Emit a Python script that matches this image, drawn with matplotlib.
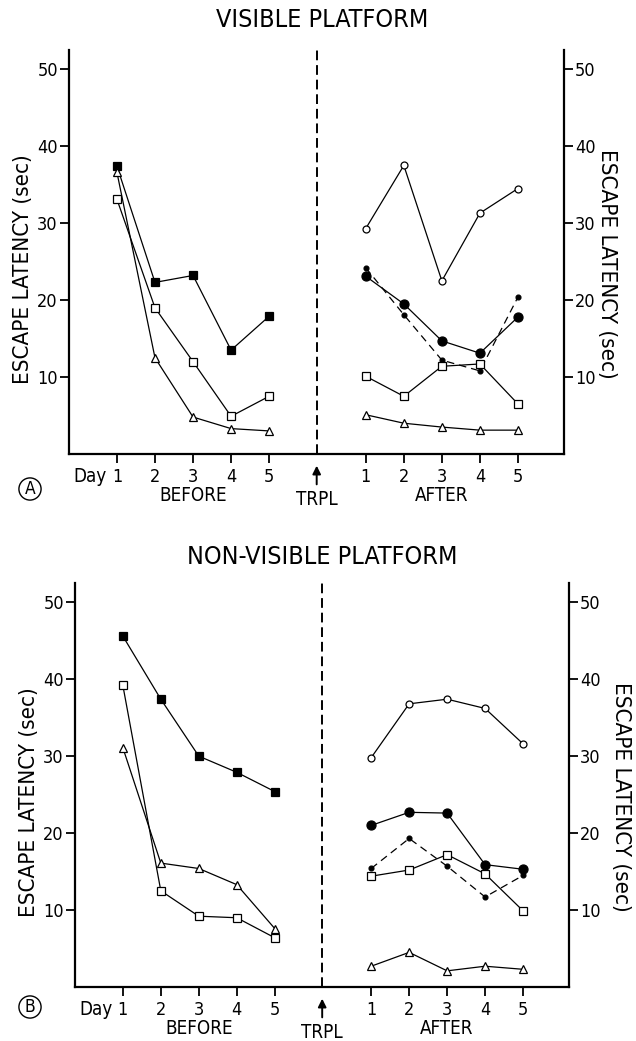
import matplotlib.pyplot as plt

plt.rcParams['font.family'] = 'DejaVu Sans'
plt.rcParams['font.stretch'] = 'condensed'

days = [1, 2, 3, 4, 5]
day_labels = ['1', '2', '3', '4', '5']
y_ticks = [10, 20, 30, 40, 50]

# A: visible platform
a_before_filled_sq = [37.4, 22.3, 23.2, 13.5, 17.9]
a_before_open_sq = [33.1, 19.0, 12.0, 4.9, 7.5]
a_before_tri = [36.6, 12.5, 4.8, 3.3, 3.0]
a_after_open_circ = [29.3, 37.5, 22.5, 31.3, 34.5]
a_after_filled_circ = [23.1, 19.5, 14.7, 13.1, 17.8]
a_after_dot = [24.2, 18.1, 12.2, 10.8, 20.4]
a_after_open_sq = [10.1, 7.5, 11.4, 11.7, 6.5]
a_after_tri = [5.1, 4.0, 3.5, 3.1, 3.1]

# B: non-visible platform
b_before_filled_sq = [45.6, 37.4, 30.0, 27.9, 25.4]
b_before_open_sq = [39.2, 12.5, 9.2, 9.0, 6.4]
b_before_tri = [31.1, 16.1, 15.4, 13.3, 7.6]
b_after_open_circ = [29.8, 36.8, 37.4, 36.2, 31.6]
b_after_filled_circ = [21.0, 22.7, 22.6, 15.9, 15.3]
b_after_dot = [15.4, 19.3, 15.7, 11.7, 14.5]
b_after_open_sq = [14.4, 15.2, 17.2, 14.7, 9.9]
b_after_tri = [2.7, 4.5, 2.1, 2.7, 2.3]

shift = 6.54   # after-days sit right of the TRPL line
trpl_x = 6.25
after_days = [d + shift for d in days]


def line(ax, x, y, marker, fc, ms, ls='-'):
    ax.plot(x, y, color='k', lw=0.9, ls=ls, marker=marker, ms=ms,
            mfc=fc, mec='k', mew=0.9, zorder=3)


def panel(ax, title, letter, title_y, letter_y, before, after, rlab_x):
    bfs, bos, btr = before
    aoc, afc, adot, aos, atr = after
    line(ax, days, bfs, 's', 'k', 5.5)
    line(ax, days, bos, 's', 'white', 5.5)
    line(ax, days, btr, '^', 'white', 6)
    line(ax, after_days, aoc, 'o', 'white', 5)
    line(ax, after_days, afc, 'o', 'k', 6.5)
    line(ax, after_days, adot, 'o', 'k', 3.5, ls=(0, (6, 4)))
    line(ax, after_days, aos, 's', 'white', 5.5)
    line(ax, after_days, atr, '^', 'white', 6)

    ax.set_xlim(-0.26, 12.75)
    ax.set_ylim(0, 52.5)
    ax.spines['top'].set_visible(False)
    for s in ['left', 'right', 'bottom']:
        ax.spines[s].set_linewidth(1.6)
    ax.set_xticks(days + after_days)
    ax.set_xticklabels(day_labels + day_labels)
    ax.set_yticks(y_ticks)
    ax.tick_params(axis='y', left=True, right=True, labelleft=True,
                   labelright=True, direction='out', length=6.5, width=1.3,
                   pad=1.5, labelsize=13)
    ax.tick_params(axis='x', direction='out', length=6.5, width=1.3,
                   pad=3.5, labelsize=13)

    ax.axvline(trpl_x, color='k', lw=1.4, ls=(0, (5, 2.5)))
    tr = ax.get_xaxis_transform()
    ax.annotate('', xy=(trpl_x, -0.022), xytext=(trpl_x, -0.082),
                xycoords=tr,
                arrowprops=dict(arrowstyle='-|>', color='k', lw=1.4,
                                mutation_scale=12), annotation_clip=False)
    ax.text(trpl_x, -0.113, 'TRPL', transform=tr, ha='center', va='center',
            fontsize=13.5)
    ax.text(0.74, -0.055, 'Day', transform=tr, ha='right', va='center',
            fontsize=13.5)
    ax.text(3, -0.103, 'BEFORE', transform=tr, ha='center', va='center',
            fontsize=13.5)
    ax.text(3 + shift, -0.103, 'AFTER', transform=tr, ha='center',
            va='center', fontsize=13.5)

    ax.text(-0.093, 0.458, 'ESCAPE LATENCY (sec)', transform=ax.transAxes,
            rotation=90, ha='center', va='center', fontsize=16)
    ax.text(rlab_x, 0.47, 'ESCAPE LATENCY (sec)', transform=ax.transAxes,
            rotation=-90, ha='center', va='center', fontsize=16)

    fig.text(0.506, title_y, title, ha='center', va='center', fontsize=18)
    fig.text(30 / 636, letter_y, letter, ha='center', va='center',
             fontsize=12.5,
             bbox=dict(boxstyle='circle,pad=0.12', fc='none', ec='k', lw=1))


fig = plt.figure(figsize=(6.36, 10.41), dpi=100)

ax1 = fig.add_axes([69 / 636, 587 / 1041, 495 / 636, 404 / 1041])
panel(ax1, 'VISIBLE PLATFORM', 'A', 1 - 20 / 1041, 1 - 489 / 1041,
      (a_before_filled_sq, a_before_open_sq, a_before_tri),
      (a_after_open_circ, a_after_filled_circ, a_after_dot,
       a_after_open_sq, a_after_tri), 1.087)

ax2 = fig.add_axes([75 / 636, 54 / 1041, 494 / 636, 404 / 1041])
panel(ax2, 'NON-VISIBLE PLATFORM', 'B', 1 - 557 / 1041, 1 - 1007 / 1041,
      (b_before_filled_sq, b_before_open_sq, b_before_tri),
      (b_after_open_circ, b_after_filled_circ, b_after_dot,
       b_after_open_sq, b_after_tri), 1.105)

fig.savefig('out.png', dpi=100)
